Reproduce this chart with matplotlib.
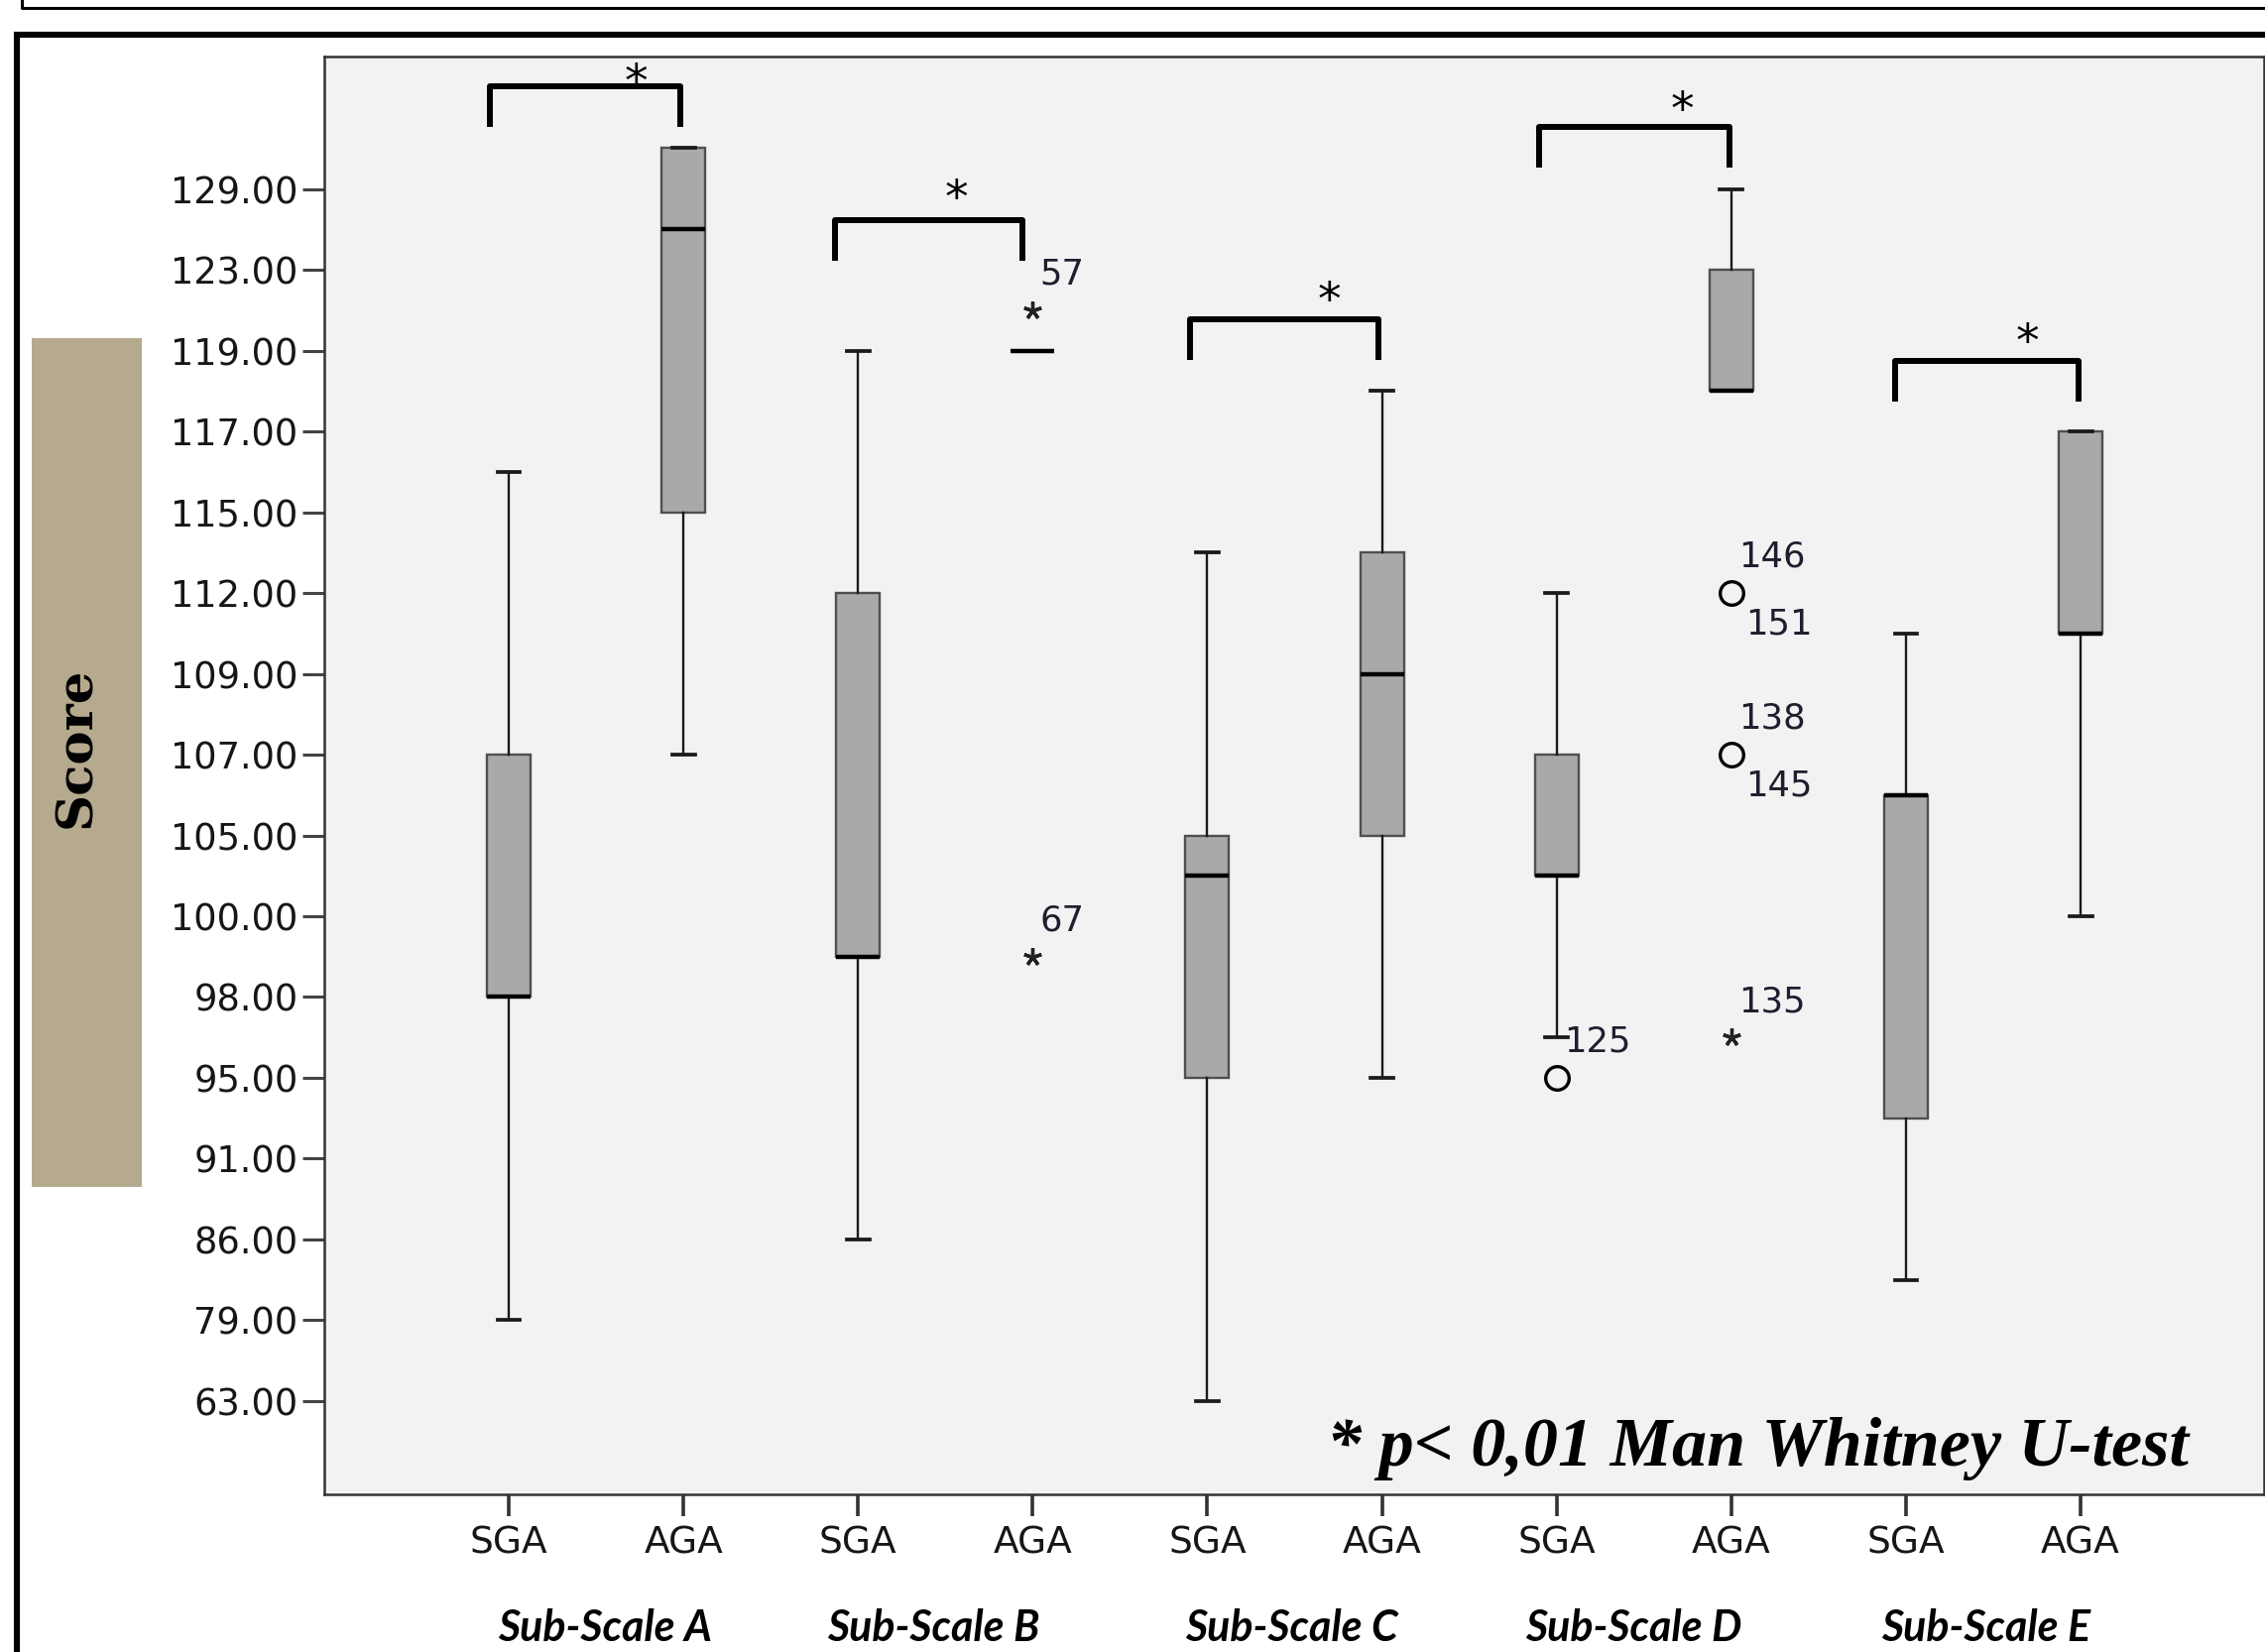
import numpy as np
import matplotlib
matplotlib.use('Agg')
import matplotlib.pyplot as plt
from matplotlib.lines import Line2D
from matplotlib.patches import Rectangle
from matplotlib.ticker import FixedLocator, FormatStrFormatter, NullLocator
from matplotlib.transforms import blended_transform_factory

# ---------------- data ----------------
subscales = ['Sub-Scale A', 'Sub-Scale B', 'Sub-Scale C', 'Sub-Scale D', 'Sub-Scale E']
groups = ['SGA', 'AGA']
score_ticks = [63, 79, 86, 91, 95, 98, 100, 105, 107, 109, 112, 115, 117, 119, 123, 129]

# one entry per box: A-SGA, A-AGA, B-SGA, B-AGA, ... E-AGA
whislo = [79, 107, 86, 119, 63, 95, 96.5, 118, 82.5, 100]
q1 = [98, 115, 99, 119, 95, 105, 102.5, 118, 93, 110.5]
med = [98, 126, 99, 119, 102.5, 109, 102.5, 118, 106, 110.5]
q3 = [107, 132.1, 112, 119, 105, 113.5, 107, 123, 106, 117]
whishi = [116, 132.1, 119, 119, 113.5, 118, 112, 129, 110.5, 117]

# individual cases (SPSS: circle = outlier, star = extreme)
out_box = [3, 3, 6, 7, 7, 7]
out_value = [121, 99, 95, 112, 107, 96.5]
out_kind = ['extreme', 'extreme', 'outlier', 'outlier', 'outlier', 'extreme']
out_label_above = ['57', '67', '125', '146', '138', '135']
out_label_below = ['', '', '', '151', '145', '']

sig_mark = '*'
sig_note = '* p< 0,01 Man Whitney U-test'
y_label = 'Score'

# ---------------- ordinal score scale ----------------
t = np.array(score_ticks, float)
r = np.arange(len(t), dtype=float)


def fwd(v):
    v = np.asarray(v, float)
    out = np.interp(v, t, r)
    out = np.where(v < t[0], (v - t[0]) / (t[1] - t[0]), out)
    out = np.where(v > t[-1], r[-1] + (v - t[-1]) / (t[-1] - t[-2]), out)
    return out


def inv(u):
    u = np.asarray(u, float)
    out = np.interp(u, r, t)
    out = np.where(u < 0, t[0] + u * (t[1] - t[0]), out)
    out = np.where(u > r[-1], t[-1] + (u - r[-1]) * (t[-1] - t[-2]), out)
    return out


# ---------------- figure ----------------
W, H = 2284, 1666
fig = plt.figure(figsize=(W / 100, H / 100), dpi=100)
fig.patch.set_facecolor('white')


def fx(px):
    return px / W


def fy(py):
    return 1 - py / H


# decorative frames of the original figure panel
fig.add_artist(Line2D([fx(22), fx(22), fx(2300)], [fy(-10), fy(8), fy(8)],
                      transform=fig.transFigure, color='black', lw=2.2))
fig.add_artist(Line2D([fx(17), fx(17), fx(2300)], [fy(1700), fy(35), fy(35)],
                      transform=fig.transFigure, color='black', lw=4.4,
                      solid_joinstyle='miter'))

ax = fig.add_axes([fx(327), fy(1507), fx(2283) - fx(327), fy(57) - fy(1507)])
ax.set_facecolor('#F2F2F2')
ax.set_yscale('function', functions=(fwd, inv))

positions = np.arange(len(med))
stats = []
for i in range(len(med)):
    stats.append(dict(med=med[i], q1=q1[i], q3=q3[i],
                      whislo=whislo[i], whishi=whishi[i], fliers=[]))

ax.bxp(stats, positions=positions, widths=0.25, capwidths=0.13,
       patch_artist=True, showfliers=False,
       boxprops=dict(facecolor='#A9A9A9', edgecolor='#4f4f4f', linewidth=1.7),
       medianprops=dict(color='black', linewidth=3.2, solid_capstyle='butt'),
       whiskerprops=dict(color='#1a1a1a', linewidth=1.7),
       capprops=dict(color='#1a1a1a', linewidth=2.7))

# outliers / extremes
for b, v, k, la, lb in zip(out_box, out_value, out_kind, out_label_above, out_label_below):
    if k == 'outlier':
        ax.plot(positions[b], v, marker='o', ms=17, mfc='none', mec='black', mew=2.4,
                linestyle='none', zorder=5)
    else:
        ax.plot(positions[b], v, marker=(5, 2, 0), ms=13, mec='#222222', mew=2.4,
                linestyle='none', zorder=5)
    if la:
        ax.annotate(la, (positions[b], v), xytext=(5, 26), textcoords='offset points',
                    ha='left', va='center', fontsize=25.5, color='#1e1e2e',
                    family='DejaVu Sans')
    if lb:
        ax.annotate(lb, (positions[b], v), xytext=(10, -23), textcoords='offset points',
                    ha='left', va='center', fontsize=25.5, color='#1e1e2e',
                    family='DejaVu Sans')

# axes limits & ticks
ax.set_xlim(-1.056, 10.05)
ax.set_ylim(float(inv(-1.155)), float(inv(16.64)))
ax.yaxis.set_major_locator(FixedLocator(score_ticks))
ax.yaxis.set_major_formatter(FormatStrFormatter('%.2f'))
ax.yaxis.set_minor_locator(NullLocator())
ax.set_xticks(positions)
ax.set_xticklabels(groups * len(subscales))
ax.tick_params(axis='y', length=15.5, width=2.2, color='#444444', pad=3.5,
               labelsize=26.5, labelcolor='#161616')
ax.tick_params(axis='x', length=15.5, width=2.6, color='#333333', pad=7,
               labelsize=27, labelcolor='#161616')
for s in ax.spines.values():
    s.set_color('#333333')
    s.set_linewidth(1.8)

# significance brackets
br_left_off = [-0.11, -0.13, -0.10, -0.10, -0.06]
br_right_off = [-0.02, -0.06, -0.02, -0.01, -0.01]
br_top = [0.979, 0.886, 0.817, 0.951, 0.788]
br_leg = 0.028
star_off = [0.727, 0.565, 0.699, 0.720, 0.697]
star_y = [0.991, 0.910, 0.839, 0.972, 0.810]
xt = ax.get_xaxis_transform()
for k in range(len(subscales)):
    xs = positions[2 * k] + br_left_off[k]
    xe = positions[2 * k + 1] + br_right_off[k]
    ax.plot([xs, xs, xe, xe], [br_top[k] - br_leg, br_top[k], br_top[k], br_top[k] - br_leg],
            transform=xt, color='black', lw=4.3, solid_joinstyle='round',
            solid_capstyle='butt', clip_on=False, zorder=6)
    ax.annotate(sig_mark, (positions[2 * k] + star_off[k], star_y[k]), xycoords=xt,
                xytext=(0, -0.57 * 34), textcoords='offset points',
                ha='center', va='baseline', fontsize=34, color='black',
                family='DejaVu Sans')

# sub-scale labels below the group ticks
label_off = [0.55, 0.43, 0.48, 0.44, 0.46]
bt = blended_transform_factory(ax.transData, fig.transFigure)
for k, name in enumerate(subscales):
    ax.text(positions[2 * k] + label_off[k], fy(1642), name, transform=bt, ha='center',
            va='center', fontsize=31, fontweight='bold', fontstyle='italic',
            family='Lato', color='black', clip_on=False)

# significance note
fig.text(fx(2207), fy(1478), sig_note, ha='right', va='baseline', fontsize=50.5,
         fontweight='bold', fontstyle='italic', family='Liberation Serif', color='black')

# y label on tan block
fig.add_artist(Rectangle((fx(32), fy(1197)), fx(143) - fx(32), fy(341) - fy(1197),
                         transform=fig.transFigure, facecolor='#B5A98E', edgecolor='none'))
fig.text(fx(78), fy(754), y_label, rotation=90, ha='center', va='center',
         fontsize=37, fontweight='bold', family='DejaVu Serif', color='black')

fig.savefig('out.png', dpi=100)
